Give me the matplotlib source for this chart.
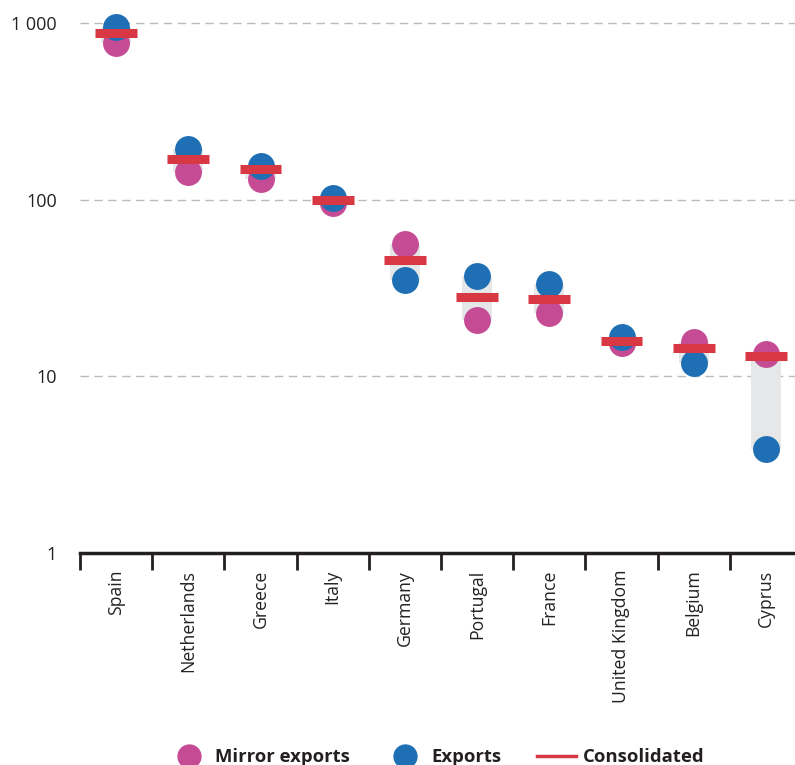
import matplotlib
matplotlib.use("Agg")
import matplotlib.pyplot as plt
from matplotlib.lines import Line2D
from matplotlib.ticker import FixedLocator, NullLocator
import numpy as np

countries = ["Spain", "Netherlands", "Greece", "Italy", "Germany",
             "Portugal", "France", "United Kingdom", "Belgium", "Cyprus"]
mirror_exports = [770, 143, 131, 96, 56, 20.8, 22.8, 15.4, 15.6, 13.4]
exports = [948, 193, 155, 102, 35, 37, 33.3, 16.7, 11.9, 3.9]
consolidated = [877, 170, 149, 99, 45.5, 28.1, 27.4, 15.8, 14.5, 13.0]

y_ticks = [1, 10, 100, 1000]
y_tick_labels = ["1", "10", "100", "1 000"]

C_MIRROR = "#c44b94"
C_EXPORTS = "#1f6fb5"
C_CONS = "#d83744"
C_BAND = "#e6e7e8"

plt.rcParams["font.family"] = ["Open Sans", "DejaVu Sans"]

fig = plt.figure(figsize=(7.95, 7.65), dpi=100)
ax = fig.add_axes([80 / 795, 212 / 765, 722 / 795, 553 / 765])

x = np.arange(len(countries))
lo = np.minimum(mirror_exports, exports)
hi = np.maximum(mirror_exports, exports)

# range band between the two estimates
ax.bar(x, hi - lo, bottom=lo, width=0.42, color=C_BAND, zorder=1)

ax.scatter(x, mirror_exports, s=375, color=C_MIRROR, zorder=3, linewidths=0)
ax.scatter(x, exports, s=375, color=C_EXPORTS, zorder=4, linewidths=0)
ax.hlines(consolidated, x - 0.29, x + 0.29, color=C_CONS, lw=6.5, zorder=5)

ax.set_yscale("log")
ax.set_xlim(-0.5, len(countries) - 0.5)
ax.set_ylim(1, 10 ** (553 / 176.7))

ax.yaxis.set_major_locator(FixedLocator(y_ticks))
ax.yaxis.set_minor_locator(NullLocator())
ax.set_yticklabels(y_tick_labels, fontsize=13, color="#222222")
ax.tick_params(axis="y", length=0, pad=16.5)
for v in y_ticks[1:]:
    ax.axhline(v, color="#bbbbbb", lw=1, ls=(0, (6, 4)), zorder=0)

# category boundaries as ticks, names as minor labels
ax.xaxis.set_major_locator(FixedLocator(np.arange(len(countries) + 1) - 0.5))
ax.xaxis.set_minor_locator(FixedLocator(x))
ax.set_xticklabels([], minor=False)
ax.set_xticklabels(countries, minor=True, rotation=90, fontsize=12.7, color="#222222")
ax.tick_params(axis="x", which="major", length=12, width=2, color="#231f20")
ax.tick_params(axis="x", which="minor", length=0, pad=12)

for s in ["top", "right", "left"]:
    ax.spines[s].set_visible(False)
ax.spines["bottom"].set_linewidth(2.5)
ax.spines["bottom"].set_color("#231f20")

handles = [
    Line2D([], [], marker="o", ls="", color=C_MIRROR, markersize=16.5, label="Mirror exports"),
    Line2D([], [], marker="o", ls="", color=C_EXPORTS, markersize=16.5, label="Exports"),
    Line2D([], [], color=C_CONS, lw=2.5, label="Consolidated"),
]
leg = fig.legend(handles=handles, loc="center", bbox_to_anchor=(437 / 795, 8 / 765),
                 ncol=3, frameon=False, prop={"weight": "bold", "size": 13.3},
                 handlelength=2.1, columnspacing=1.9, handletextpad=0.4)
for t in leg.get_texts():
    t.set_color("#231f20")

fig.savefig("out.png", dpi=100)
